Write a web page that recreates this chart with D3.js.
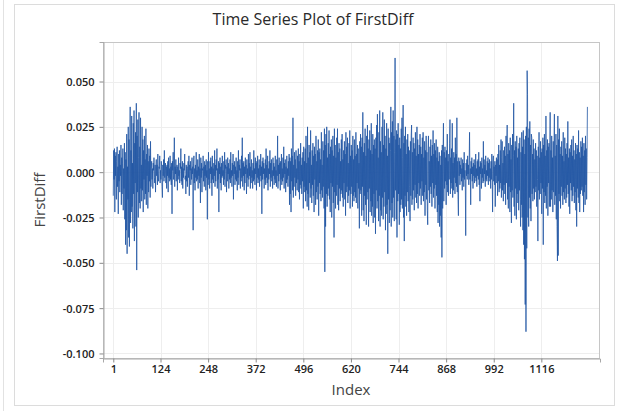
<!DOCTYPE html>
<html>
<head>
<meta charset="utf-8">
<script src="https://cdn.jsdelivr.net/npm/d3@7"></script>
<style>
  body { margin: 0; background: #fff; }
  svg { display: block; font-family: "Open Sans", "DejaVu Sans", sans-serif; }
</style>
</head>
<body>
<svg width="624" height="411"></svg>
<script>
// tick labels
var xTicks = [1, 124, 248, 372, 496, 620, 744, 868, 992, 1116];
var yTicks = [-0.100, -0.075, -0.050, -0.025, 0.000, 0.025, 0.050];

// FirstDiff values (index 1..1236)
var firstDiff = [
  -.013,.012,-.004,.013,-.022,.009,-.002,.011,-.015,.006,.014,-.008,.003,-.023,.010,-.005,.012,-.011,.004,-.002,
  .015,-.018,.008,-.012,.005,.013,-.021,.002,-.009,.016,-.026,.011,-.040,.007,-.032,.021,-.045,.003,-.015,.025,
  -.036,.018,-.041,.009,.036,-.028,.012,-.022,.031,-.019,.005,-.031,.027,-.012,.034,-.038,.016,-.006,.022,-.030,
  .038,-.054,.020,-.011,.029,-.025,.008,.033,-.017,.014,-.020,.030,-.009,.004,-.016,.025,-.010,.018,-.022,.012,
  -.004,.020,-.015,.007,-.012,.024,-.018,.010,-.002,.015,-.020,.006,-.011,.013,-.005,.009,-.014,.017,-.008,.002,
  .006,-.004,.002,-.009,.005,.001,.008,-.003,-.006,.004,-.011,.003,.007,-.002,.004,-.007,.010,-.001,-.005,.003,
  .002,.009,-.006,.001,-.004,.006,.003,-.008,-.014,.004,-.002,.007,-.005,.012,-.003,.001,.005,-.006,.003,-.009,
  .004,-.002,.006,-.011,.008,-.003,.002,-.005,.009,-.004,.003,-.007,.005,-.023,.006,.001,.011,-.004,-.002,.019,
  -.008,.003,-.001,.007,-.005,.002,.004,-.010,.003,-.004,.008,-.002,.001,-.006,.005,.002,.013,-.005,.003,-.007,
  .006,-.009,.002,-.003,.005,.001,.010,-.004,-.002,-.012,.004,-.005,.003,-.008,.002,.006,-.003,.009,-.013,.004,
  .001,.006,-.007,.002,-.004,.008,-.001,.003,-.032,.005,.009,-.006,.002,-.010,.004,-.003,.011,-.005,.001,-.004,
  .007,-.009,.003,-.002,.010,-.006,.002,-.017,.008,-.003,.005,-.011,.002,.001,.009,-.005,.003,-.008,.006,-.002,
  .004,-.010,.007,-.003,.001,-.026,.006,-.007,.011,-.004,.002,-.009,.006,-.001,.008,-.006,.003,-.013,.009,-.004,
  .002,-.006,.005,-.002,.012,-.008,.004,-.005,.007,.001,.013,-.009,.002,-.004,.006,-.022,.005,-.001,.008,-.006,
  .003,-.010,.005,-.003,.009,-.002,.001,-.007,.006,-.004,.011,-.008,.004,.002,.007,-.011,.003,-.005,.008,-.001,
  .005,-.009,.002,-.004,.007,-.006,.011,-.003,.001,-.008,.005,-.002,.010,-.015,.004,-.001,.006,-.007,.003,-.004,
  .008,-.005,.001,-.010,.006,-.003,.012,-.007,.004,.001,.007,-.009,.002,-.005,.009,-.003,.019,-.008,.005,-.002,
  .006,-.010,.003,-.006,.008,-.001,.004,-.012,.007,-.003,.002,-.008,.010,-.004,.005,-.002,.011,-.009,.003,-.006,
  .007,-.003,.001,-.009,.005,-.005,.012,-.004,.002,-.007,.008,-.001,.005,-.010,.006,-.003,.009,-.006,.002,-.004,
  .007,-.008,.004,-.002,.010,-.005,.003,-.023,.006,-.004,.008,-.001,.005,-.009,.002,-.004,.007,-.007,.013,-.003,
  .004,-.006,.009,-.010,.002,-.004,.006,-.001,.012,-.008,.005,-.003,.007,-.005,.001,-.009,.008,-.002,.005,-.007,
  .003,-.004,.009,-.006,.001,-.008,.007,-.002,.020,-.009,.004,-.005,.008,-.001,.005,-.010,.006,-.004,.010,-.007,
  .002,-.005,.008,-.003,.014,-.009,.005,-.001,.007,-.011,.003,-.006,.009,-.004,.002,-.008,.006,-.002,.010,-.018,
  .008,-.012,.006,-.022,.013,-.005,.009,-.010,.030,-.014,.004,-.008,.011,-.003,.007,-.013,.012,-.006,.002,-.010,
  .009,-.004,.013,-.011,.006,-.015,.010,-.007,.016,-.009,.004,-.012,.008,-.005,.011,-.020,.014,-.008,.006,-.011,
  .013,-.016,.020,-.010,.005,-.019,.025,-.012,.008,-.021,.015,-.006,.011,-.014,.023,-.009,.004,-.017,.012,-.007,
  .016,-.013,.009,-.022,.014,-.004,.010,-.018,.020,-.011,.006,-.015,.012,-.008,.018,-.024,.011,-.006,.013,-.012,
  .007,-.016,.022,-.010,.004,-.014,.017,-.008,.012,-.020,.024,-.055,.015,-.030,.021,-.012,.025,-.019,.008,-.013,
  .016,-.009,.023,-.015,.010,-.022,.014,-.006,.018,-.025,.012,-.008,.020,-.017,.009,-.036,.024,-.011,.015,-.020,
  .008,-.013,.019,-.007,.024,-.018,.011,-.021,.016,-.009,.013,-.016,.006,-.012,.018,-.010,.021,-.014,.007,-.019,
  .012,-.006,.017,-.015,.010,-.024,.022,-.011,.014,-.008,.019,-.017,.005,-.013,.016,-.010,.023,-.020,.009,-.012,
  .015,-.008,.012,-.019,.020,-.013,.007,-.016,.018,-.011,.009,-.014,.022,-.017,.010,-.006,.015,-.020,.013,-.009,
  .005,-.031,.017,-.012,.021,-.010,.014,-.024,.019,-.008,.033,-.021,.011,-.027,.016,-.013,.024,-.018,.009,-.029,
  .020,-.015,.026,-.011,.013,-.030,.018,-.009,.023,-.022,.012,-.016,.027,-.024,.010,-.019,.021,-.028,.015,-.012,
  .018,-.025,.013,-.034,.019,-.010,.026,-.020,.032,-.016,.008,-.027,.022,-.013,.034,-.030,.017,-.021,.011,-.024,
  .025,-.014,.033,-.026,.015,-.019,.029,-.011,.020,-.032,.013,-.023,.027,-.018,.009,-.045,.024,-.015,.019,-.028,
  .016,-.021,.012,.036,-.030,.022,-.017,.028,-.025,.034,-.014,.020,-.027,.011,.063,-.010,.018,-.026,.023,-.036,
  .021,-.016,.027,-.012,.015,-.029,.019,-.022,.013,-.018,.024,-.015,.030,-.020,.008,.037,-.025,.016,-.038,.020,
  -.013,.025,-.019,.010,-.024,.018,-.011,.021,-.016,.014,-.022,.012,-.008,-.027,.017,-.013,.020,.026,-.018,.011,
  -.015,.019,-.010,.016,-.021,.013,-.007,.022,-.014,.009,-.017,.025,-.012,.018,-.020,.010,-.006,.015,-.013,.021,
  -.009,.014,-.018,.010,-.005,.019,-.013,.022,-.016,.008,-.011,.017,-.024,.012,-.007,.020,-.015,.011,-.021,-.029,
  .013,.020,-.010,.006,-.017,.014,-.008,.018,-.012,.009,-.019,.015,-.006,.023,-.014,.010,-.009,.016,-.020,.012,
  -.007,.018,-.013,.008,-.022,.014,-.028,.006,-.018,.011,-.030,.009,-.024,.004,-.036,.012,-.047,.015,-.020,.009,
  .027,-.016,.011,-.009,.014,-.005,.008,-.018,.012,-.007,.021,-.011,.006,-.013,.010,-.004,.016,.029,-.012,.008,
  -.006,.013,-.009,.027,-.014,.005,-.010,.011,-.003,.008,-.012,.019,-.006,.010,-.008,.030,-.011,.006,-.015,-.024,
  .008,-.002,.006,-.007,.004,-.001,.008,-.005,.002,-.010,.007,-.003,.005,-.008,.011,-.004,.001,-.006,-.035,.005,
  -.002,.007,-.004,.009,-.001,.004,-.007,.005,.022,-.004,.002,-.018,.006,-.001,.008,-.005,.003,-.009,.005,-.002,
  .007,-.006,.004,-.003,.010,-.005,.002,-.008,.006,-.002,.007,-.004,.011,-.007,.003,-.016,.006,-.001,.005,-.009,
  .008,-.003,.002,-.006,.017,-.005,.007,-.001,.004,-.008,.009,-.004,.001,-.005,.006,-.002,.008,-.007,.005,-.003,
  .007,-.005,.002,-.009,.006,-.004,.010,-.001,-.022,.005,.009,-.005,.003,-.007,.006,-.019,.004,-.002,.008,-.006,
  .007,-.013,.010,-.005,.015,-.011,.004,-.009,.012,-.006,.018,-.014,.008,.017,-.010,.005,-.016,.012,-.007,.014,
  -.012,.009,-.018,.020,-.006,.013,.026,-.015,.010,-.020,.016,-.008,.012,-.022,.019,-.011,.007,-.028,.015,-.010,
  .021,-.014,.009,.038,-.019,.012,-.024,.017,-.009,.014,-.026,.020,-.012,.008,-.017,.013,-.021,.016,-.010,.019,
  -.015,-.030,.011,-.018,.022,-.025,.014,-.032,.023,-.040,.018,-.048,.010,-.073,.020,-.088,.025,-.042,.056,.043,
  -.025,.019,-.030,.024,-.014,.028,-.020,.015,-.027,.021,.019,-.012,.010,-.016,.018,-.009,.013,-.015,.007,-.011,
  .016,-.008,.012,-.019,.009,-.004,-.038,.014,-.010,.022,-.015,.008,-.012,.017,-.006,.011,-.023,.013,-.009,.019,
  -.040,.015,-.011,.021,-.017,.009,-.013,.031,-.020,.012,-.008,.018,-.024,.014,-.006,.016,-.019,.010,.033,-.019,
  .012,-.015,.020,-.010,.008,-.022,.017,-.011,.014,.032,-.018,.009,-.013,.021,-.026,.015,-.030,-.049,.031,-.046,
  .018,-.012,.024,-.016,.010,-.020,.014,-.008,.017,-.013,.009,-.018,.022,-.011,.006,-.015,.019,-.009,.013,-.017,
  .010,-.014,.016,-.007,.028,-.012,.008,-.019,.013,-.023,.011,-.006,.015,-.010,.018,-.016,.009,-.013,.020,-.008,
  .012,-.017,.007,-.011,.016,-.021,.010,-.030,.015,-.009,.013,-.014,.023,-.017,.011,-.022,.008,-.012,.017,-.010,
  .014,-.008,.019,-.013,.009,-.022,.016,-.011,.012,-.018,.020,-.007,.013,-.015,.008,.036
];

var svg = d3.select("svg"),
    width = +svg.attr("width"),
    height = +svg.attr("height");

var plot = { left: 103, right: 600, top: 42, bottom: 358 };

// outer panel borders
svg.append("rect")
    .attr("x", 14.5).attr("y", 4.5)
    .attr("width", 600).attr("height", 401)
    .attr("fill", "#fff")
    .attr("stroke", "#dcdcdc");
svg.append("line")
    .attr("x1", 3.5).attr("x2", 3.5).attr("y1", 0).attr("y2", height)
    .attr("stroke", "#e2e2e2");

var x = d3.scaleLinear()
    .domain([-25.8, 1268.8])
    .range([plot.left, plot.right]);

var y = d3.scaleLinear()
    .domain([-0.1025, 0.0718])
    .range([plot.bottom, plot.top]);

// gridlines
var grid = svg.append("g").attr("class", "grid");
grid.selectAll(".gx")
    .data(xTicks)
    .enter().append("line")
    .attr("x1", function (d) { return Math.round(x(d)) + 0.5; })
    .attr("x2", function (d) { return Math.round(x(d)) + 0.5; })
    .attr("y1", plot.top).attr("y2", plot.bottom)
    .attr("stroke", "#eeeeee");
grid.selectAll(".gy")
    .data(yTicks)
    .enter().append("line")
    .attr("x1", plot.left).attr("x2", plot.right)
    .attr("y1", function (d) { return Math.round(y(d)) + 0.5; })
    .attr("y2", function (d) { return Math.round(y(d)) + 0.5; })
    .attr("stroke", "#eeeeee");

// the series
var line = d3.line()
    .x(function (d, i) { return x(i + 1); })
    .y(function (d) { return y(d); });

svg.append("path")
    .datum(firstDiff)
    .attr("fill", "none")
    .attr("stroke", "#2155a3")
    .attr("stroke-width", 0.8)
    .attr("stroke-linejoin", "bevel")
    .attr("d", line);

// frame
svg.append("rect")
    .attr("x", plot.left + 0.5).attr("y", plot.top + 0.5)
    .attr("width", plot.right - plot.left - 1)
    .attr("height", plot.bottom - plot.top)
    .attr("fill", "none")
    .attr("stroke", "#c6c6c6");

// hyphen instead of the unicode minus, like the original
var fmtY = function (d) { return d3.format(".3f")(d).replace("\u2212", "-"); };

// axes
var xAxis = svg.append("g")
    .attr("transform", "translate(0," + (plot.bottom + 0.5) + ")")
    .call(d3.axisBottom(x).tickValues(xTicks).tickSize(4).tickPadding(3)
        .tickFormat(d3.format("d")));

var yAxis = svg.append("g")
    .attr("transform", "translate(" + (plot.left + 0.5) + ",0)")
    .call(d3.axisLeft(y).tickValues(yTicks).tickSize(4).tickPadding(5)
        .tickFormat(fmtY));

[xAxis, yAxis].forEach(function (a) {
    a.select(".domain").attr("stroke", "#a8a8a8");
    a.selectAll(".tick line").attr("stroke", "#8a8a8a");
    a.selectAll(".tick text")
        .attr("fill", "#222")
        .style("font-size", "11px")
        .style("font-weight", "600")
        .style("font-family", "'Open Sans', 'DejaVu Sans', sans-serif");
});
yAxis.selectAll(".tick text").attr("dy", "0.35em");

// title and axis labels
svg.append("text")
    .attr("x", 313).attr("y", 25)
    .attr("text-anchor", "middle")
    .attr("fill", "#2a2a2a")
    .style("font-size", "16px")
    .text("Time Series Plot of FirstDiff");

svg.append("text")
    .attr("x", 351).attr("y", 395)
    .attr("text-anchor", "middle")
    .attr("fill", "#444")
    .style("font-size", "15px")
    .text("Index");

svg.append("text")
    .attr("transform", "translate(45,200) rotate(-90)")
    .attr("text-anchor", "middle")
    .attr("fill", "#444")
    .style("font-size", "15px")
    .text("FirstDiff");
</script>
</body>
</html>
